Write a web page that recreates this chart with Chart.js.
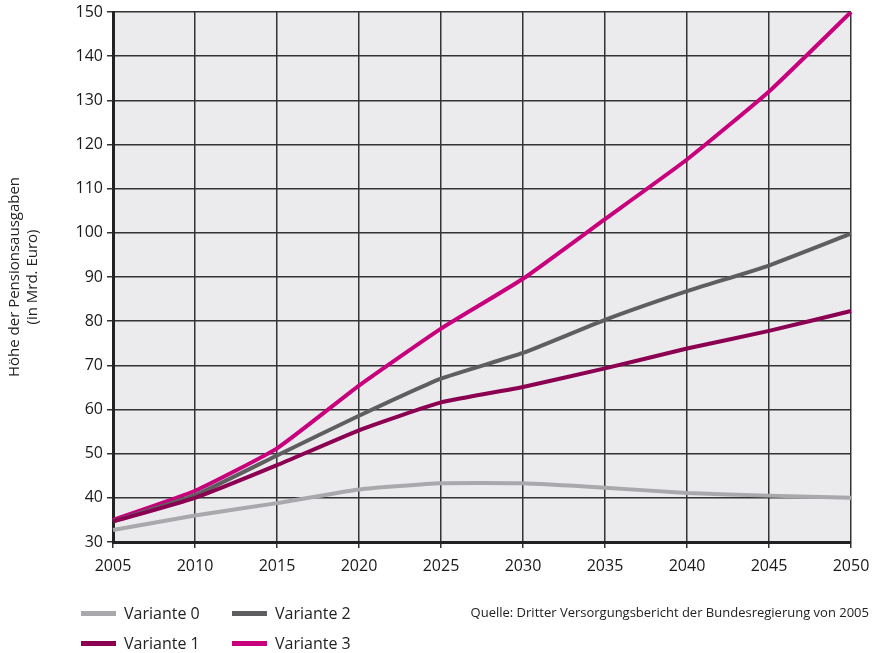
<!DOCTYPE html>
<html lang="de">
<head>
  <meta charset="UTF-8">
  <title>Pensionsausgaben</title>
  <script src="https://cdn.jsdelivr.net/npm/chart.js"></script>
  <style>
    body {
      margin: 0;
      background: #fff;
      font-family: 'Open Sans', sans-serif;
    }
    #wrap {
      position: relative;
      width: 874px;
      height: 653px;
    }
    #legend {
      position: absolute;
      left: 81px;
      top: 600px;
      display: grid;
      grid-template-rows: 26px 26px;
      grid-auto-flow: column;
      grid-auto-columns: 151px;
      row-gap: 4px;
      font-size: 16px;
      color: #222;
    }
    .item { display: flex; align-items: center; }
    .swatch { width: 35px; height: 5px; margin-right: 8px; }
    #source {
      position: absolute;
      right: 5px;
      top: 603px;
      font-size: 13px;
      color: #222;
    }
  </style>
</head>
<body>
  <div id="wrap">
    <canvas id="chart" width="874" height="653"></canvas>
    <div id="legend"></div>
    <div id="source">Quelle: Dritter Versorgungsbericht der Bundesregierung von 2005</div>
  </div>

  <script>
    const years = [2005, 2010, 2015, 2020, 2025, 2030, 2035, 2040, 2045, 2050];
    const variante0 = [32.7, 36.0, 38.8, 41.9, 43.3, 43.3, 42.3, 41.1, 40.5, 40.0];
    const variante1 = [34.6, 40.0, 47.4, 55.3, 61.6, 65.1, 69.3, 73.8, 77.8, 82.3];
    const variante2 = [34.7, 40.6, 49.6, 58.6, 67.0, 72.8, 80.3, 86.8, 92.6, 99.8];
    const variante3 = [35.0, 41.6, 51.2, 65.4, 78.3, 89.6, 103.1, 116.6, 132.0, 150.0];
    const seriesNames = ["Variante 0", "Variante 1", "Variante 2", "Variante 3"];
    const seriesColors = ["#a9a9ad", "#8c0052", "#5e5e60", "#c8007c"];

    const plotBg = {
      id: "plotBg",
      beforeDraw(chart) {
        const { ctx, chartArea: a } = chart;
        ctx.save();
        ctx.fillStyle = "#ebebee";
        ctx.fillRect(a.left, a.top, a.right - a.left, a.bottom - a.top);
        ctx.restore();
      }
    };

    const data = [variante0, variante1, variante2, variante3];
    const datasets = data.map((vals, i) => ({
      label: seriesNames[i],
      data: vals,
      borderColor: seriesColors[i],
      borderWidth: 4,
      pointRadius: 0,
      tension: 0.15,
      fill: false
    }));

    new Chart(document.getElementById("chart"), {
      type: "line",
      data: { labels: years, datasets: datasets },
      options: {
        responsive: false,
        animation: false,
        layout: { padding: { top: 10, right: 23, bottom: 73, left: 0 } },
        plugins: {
          legend: { display: false },
          tooltip: { enabled: false }
        },
        scales: {
          x: {
            offset: false,
            afterFit: (s) => { s.height = 38; },
            grid: { color: "#333", lineWidth: 1.5, tickLength: 6, drawOnChartArea: true },
            border: { color: "#222", width: 3 },
            ticks: { color: "#1a1a1a", font: { family: "Open Sans", size: 16, lineHeight: 2 }, padding: 2, maxRotation: 0 }
          },
          y: {
            min: 30,
            max: 150,
            afterFit: (s) => { s.width = 113; },
            grid: { color: "#333", lineWidth: 1.5, tickLength: 6 },
            border: { color: "#222", width: 3 },
            ticks: { stepSize: 10, color: "#1a1a1a", font: { family: "Open Sans", size: 16, lineHeight: 1 }, padding: 4 },
            title: {
              display: true,
              text: ["Höhe der Pensionsausgaben", "(in Mrd. Euro)"],
              color: "#222",
              font: { family: "Open Sans", size: 15 },
              padding: { top: 6, bottom: 0 }
            }
          }
        }
      },
      plugins: [plotBg]
    });

    const legend = document.getElementById("legend");
    seriesNames.forEach((name, i) => {
      const item = document.createElement("div");
      item.className = "item";
      item.innerHTML = `<span class="swatch" style="background:${seriesColors[i]}"></span>${name}`;
      legend.appendChild(item);
    });
  </script>
</body>
</html>
